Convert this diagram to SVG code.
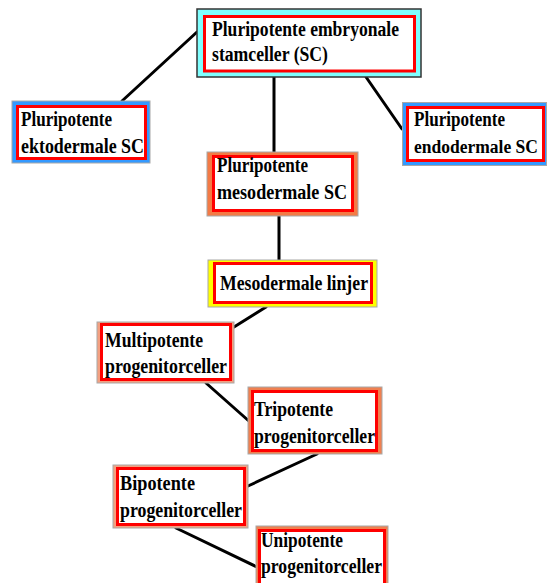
<svg xmlns="http://www.w3.org/2000/svg" width="547" height="583" viewBox="0 0 547 583">
  <style>
    .frame { stroke: #a8a8a8; stroke-width: 1; }
    .inner { fill: #ffffff; stroke: #ff0000; stroke-width: 3; }
    .lbl { font-family: "Liberation Serif", "Times New Roman", serif; font-weight: bold; font-size: 20px; fill: #000000; }
    .narrow { font-size: 18px; }
    .link { stroke: #000000; stroke-width: 3; stroke-linecap: round; fill: none; }
  </style>
  <rect width="547" height="583" fill="#ffffff"/>

  <!-- connectors -->
  <g id="connectors">
    <line class="link" x1="197" y1="32" x2="122" y2="101"/>
    <line class="link" x1="274" y1="77" x2="274" y2="152"/>
    <line class="link" x1="366" y1="77" x2="402" y2="129"/>
    <line class="link" x1="279" y1="216" x2="279" y2="260"/>
    <line class="link" x1="266" y1="307" x2="234" y2="327"/>
    <line class="link" x1="206" y1="383" x2="250" y2="422"/>
    <line class="link" x1="317" y1="454" x2="248" y2="486"/>
    <line class="link" x1="176" y1="528" x2="257" y2="567"/>
  </g>

  <!-- embryonic stem cells -->
  <g id="node-embryonale">
    <rect x="197" y="9" width="224" height="68" fill="#80ffff" stroke="#333333" stroke-width="1.5"/>
    <rect class="inner" x="204.5" y="16.5" width="210" height="54.5"/>
    <text class="lbl" x="212" y="36" textLength="187" lengthAdjust="spacingAndGlyphs">Pluripotente embryonale</text>
    <text class="lbl" x="212" y="61" textLength="116" lengthAdjust="spacingAndGlyphs">stamceller (SC)</text>
  </g>

  <g id="node-ektodermale">
    <rect class="frame" x="12" y="101" width="138" height="62" fill="#3399ff"/>
    <rect class="inner" x="17.5" y="106.5" width="128" height="52"/>
    <text class="lbl" x="21" y="126" textLength="91" lengthAdjust="spacingAndGlyphs">Pluripotente</text>
    <text class="lbl" x="21" y="153" textLength="123" lengthAdjust="spacingAndGlyphs">ektodermale SC</text>
  </g>

  <g id="node-endodermale">
    <rect class="frame" x="402.5" y="102.5" width="144" height="63" fill="#3399ff"/>
    <rect class="inner" x="407.5" y="107.5" width="136" height="53"/>
    <text class="lbl" x="414" y="126" textLength="91" lengthAdjust="spacingAndGlyphs">Pluripotente</text>
    <text class="lbl narrow" x="414" y="153" textLength="124" lengthAdjust="spacingAndGlyphs">endodermale SC</text>
  </g>

  <g id="node-mesodermale">
    <rect class="frame" x="207" y="152" width="151" height="64" fill="#f47a45"/>
    <rect class="inner" x="213.5" y="156.5" width="139" height="54"/>
    <text class="lbl" x="217" y="172" textLength="91" lengthAdjust="spacingAndGlyphs">Pluripotente</text>
    <text class="lbl" x="217" y="199" textLength="130" lengthAdjust="spacingAndGlyphs">mesodermale SC</text>
  </g>

  <g id="node-linjer">
    <rect class="frame" x="208" y="260" width="169" height="47" fill="#ffff00"/>
    <rect class="inner" x="214.5" y="263.5" width="157" height="39"/>
    <text class="lbl" x="220" y="290" textLength="148" lengthAdjust="spacingAndGlyphs">Mesodermale linjer</text>
  </g>

  <g id="node-multipotente">
    <rect class="frame" x="97" y="322" width="137" height="61" fill="#f4a080"/>
    <rect class="inner" x="101.5" y="324.5" width="129" height="55"/>
    <text class="lbl" x="105" y="347" textLength="98" lengthAdjust="spacingAndGlyphs">Multipotente</text>
    <text class="lbl" x="105" y="373" textLength="122" lengthAdjust="spacingAndGlyphs">progenitorceller</text>
  </g>

  <g id="node-tripotente">
    <rect class="frame" x="248" y="387" width="134" height="67" fill="#f08050"/>
    <rect class="inner" x="252.5" y="391.5" width="124" height="59"/>
    <text class="lbl" x="254" y="416" textLength="79" lengthAdjust="spacingAndGlyphs">Tripotente</text>
    <text class="lbl" x="254" y="443" textLength="121" lengthAdjust="spacingAndGlyphs">progenitorceller</text>
  </g>

  <g id="node-bipotente">
    <rect class="frame" x="113" y="465" width="135" height="63" fill="#f4a080"/>
    <rect class="inner" x="117.5" y="468.5" width="127" height="56"/>
    <text class="lbl" x="120" y="490" textLength="75" lengthAdjust="spacingAndGlyphs">Bipotente</text>
    <text class="lbl" x="120" y="517" textLength="122" lengthAdjust="spacingAndGlyphs">progenitorceller</text>
  </g>

  <g id="node-unipotente">
    <rect class="frame" x="256" y="526" width="132" height="64" fill="#f08050"/>
    <rect class="inner" x="259.5" y="530.5" width="125" height="58"/>
    <text class="lbl" x="261" y="547" textLength="82" lengthAdjust="spacingAndGlyphs">Unipotente</text>
    <text class="lbl" x="261" y="573" textLength="121" lengthAdjust="spacingAndGlyphs">progenitorceller</text>
  </g>
</svg>
